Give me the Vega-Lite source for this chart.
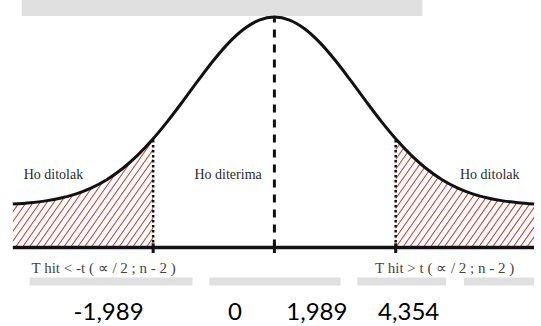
{
  "$schema": "https://vega.github.io/schema/vega-lite/v6.json",
  "width": 541,
  "height": 326,
  "autosize": {"type": "fit", "contains": "padding"},
  "padding": 0,
  "background": "white",
  "config": {"view": {"stroke": null}},
  "datasets": {
    "curve": [
      {"t": -4.29, "v": 0.1883, "side": "L", "cap": 0.6},
      {"t": -4.0, "v": 0.1941, "side": "L", "cap": 0.6},
      {"t": -3.75, "v": 0.2022, "side": "L", "cap": 0.6},
      {"t": -3.5, "v": 0.2146, "side": "L", "cap": 0.6},
      {"t": -3.25, "v": 0.2329, "side": "L", "cap": 0.6},
      {"t": -3.0, "v": 0.2589, "side": "L", "cap": 0.6},
      {"t": -2.75, "v": 0.2942, "side": "L", "cap": 0.6},
      {"t": -2.5, "v": 0.3405, "side": "L", "cap": 0.6},
      {"t": -2.25, "v": 0.3985, "side": "L", "cap": 0.6},
      {"t": -1.989, "v": 0.4714, "side": "L", "cap": 0.6},
      {"t": -1.989, "v": 0.4714, "side": "M", "cap": 0.6},
      {"t": -1.75, "v": 0.548, "side": "M", "cap": 0.6},
      {"t": -1.5, "v": 0.6351, "side": "M", "cap": 0.6},
      {"t": -1.25, "v": 0.7248, "side": "M", "cap": 0.6},
      {"t": -1.0, "v": 0.8111, "side": "M", "cap": 0.6},
      {"t": -0.75, "v": 0.8877, "side": "M", "cap": 0.6},
      {"t": -0.5, "v": 0.948, "side": "M", "cap": 0.6},
      {"t": -0.25, "v": 0.9867, "side": "M", "cap": 0.6},
      {"t": 0, "v": 1.0, "side": "M", "cap": 0.6},
      {"t": 0.25, "v": 0.9867, "side": "M", "cap": 0.6},
      {"t": 0.5, "v": 0.948, "side": "M", "cap": 0.6},
      {"t": 0.75, "v": 0.8877, "side": "M", "cap": 0.6},
      {"t": 1.0, "v": 0.8111, "side": "M", "cap": 0.6},
      {"t": 1.25, "v": 0.7248, "side": "M", "cap": 0.6},
      {"t": 1.5, "v": 0.6351, "side": "M", "cap": 0.6},
      {"t": 1.75, "v": 0.548, "side": "M", "cap": 0.6},
      {"t": 1.989, "v": 0.4714, "side": "M", "cap": 0.6},
      {"t": 1.989, "v": 0.4714, "side": "R", "cap": 0.6},
      {"t": 2.25, "v": 0.3985, "side": "R", "cap": 0.6},
      {"t": 2.5, "v": 0.3405, "side": "R", "cap": 0.6},
      {"t": 2.75, "v": 0.2942, "side": "R", "cap": 0.6},
      {"t": 3.0, "v": 0.2589, "side": "R", "cap": 0.6},
      {"t": 3.25, "v": 0.2329, "side": "R", "cap": 0.6},
      {"t": 3.5, "v": 0.2146, "side": "R", "cap": 0.6},
      {"t": 3.75, "v": 0.2022, "side": "R", "cap": 0.6},
      {"t": 4.0, "v": 0.1941, "side": "R", "cap": 0.6},
      {"t": 4.26, "v": 0.1886, "side": "R", "cap": 0.6}
    ],
    "hatch": [
      {"x0": -1.990, "x1": -0.660, "y0": 0, "y1": 0.5}, {"x0": -2.103, "x1": -0.773, "y0": 0, "y1": 0.5},
      {"x0": -2.216, "x1": -0.886, "y0": 0, "y1": 0.5}, {"x0": -2.329, "x1": -0.999, "y0": 0, "y1": 0.5},
      {"x0": -2.442, "x1": -1.112, "y0": 0, "y1": 0.5}, {"x0": -2.555, "x1": -1.225, "y0": 0, "y1": 0.5},
      {"x0": -2.668, "x1": -1.338, "y0": 0, "y1": 0.5}, {"x0": -2.781, "x1": -1.451, "y0": 0, "y1": 0.5},
      {"x0": -2.894, "x1": -1.564, "y0": 0, "y1": 0.5}, {"x0": -3.007, "x1": -1.677, "y0": 0, "y1": 0.5},
      {"x0": -3.120, "x1": -1.790, "y0": 0, "y1": 0.5}, {"x0": -3.233, "x1": -1.903, "y0": 0, "y1": 0.5},
      {"x0": -3.346, "x1": -2.016, "y0": 0, "y1": 0.5}, {"x0": -3.459, "x1": -2.129, "y0": 0, "y1": 0.5},
      {"x0": -3.572, "x1": -2.242, "y0": 0, "y1": 0.5}, {"x0": -3.685, "x1": -2.355, "y0": 0, "y1": 0.5},
      {"x0": -3.798, "x1": -2.468, "y0": 0, "y1": 0.5}, {"x0": -3.911, "x1": -2.581, "y0": 0, "y1": 0.5},
      {"x0": -4.024, "x1": -2.694, "y0": 0, "y1": 0.5}, {"x0": -4.137, "x1": -2.807, "y0": 0, "y1": 0.5},
      {"x0": -4.250, "x1": -2.920, "y0": 0, "y1": 0.5}, {"x0": -4.363, "x1": -3.033, "y0": 0, "y1": 0.5},
      {"x0": -4.476, "x1": -3.146, "y0": 0, "y1": 0.5}, {"x0": -4.589, "x1": -3.259, "y0": 0, "y1": 0.5},
      {"x0": -4.702, "x1": -3.372, "y0": 0, "y1": 0.5}, {"x0": -4.815, "x1": -3.485, "y0": 0, "y1": 0.5},
      {"x0": 0.747, "x1": 2.077, "y0": 0, "y1": 0.5}, {"x0": 0.860, "x1": 2.190, "y0": 0, "y1": 0.5},
      {"x0": 0.973, "x1": 2.303, "y0": 0, "y1": 0.5}, {"x0": 1.086, "x1": 2.416, "y0": 0, "y1": 0.5},
      {"x0": 1.199, "x1": 2.529, "y0": 0, "y1": 0.5}, {"x0": 1.312, "x1": 2.642, "y0": 0, "y1": 0.5},
      {"x0": 1.425, "x1": 2.755, "y0": 0, "y1": 0.5}, {"x0": 1.538, "x1": 2.868, "y0": 0, "y1": 0.5},
      {"x0": 1.651, "x1": 2.981, "y0": 0, "y1": 0.5}, {"x0": 1.764, "x1": 3.094, "y0": 0, "y1": 0.5},
      {"x0": 1.877, "x1": 3.207, "y0": 0, "y1": 0.5}, {"x0": 1.990, "x1": 3.320, "y0": 0, "y1": 0.5},
      {"x0": 2.103, "x1": 3.433, "y0": 0, "y1": 0.5}, {"x0": 2.216, "x1": 3.546, "y0": 0, "y1": 0.5},
      {"x0": 2.329, "x1": 3.659, "y0": 0, "y1": 0.5}, {"x0": 2.442, "x1": 3.772, "y0": 0, "y1": 0.5},
      {"x0": 2.555, "x1": 3.885, "y0": 0, "y1": 0.5}, {"x0": 2.668, "x1": 3.998, "y0": 0, "y1": 0.5},
      {"x0": 2.781, "x1": 4.111, "y0": 0, "y1": 0.5}, {"x0": 2.894, "x1": 4.224, "y0": 0, "y1": 0.5},
      {"x0": 3.007, "x1": 4.337, "y0": 0, "y1": 0.5}, {"x0": 3.120, "x1": 4.450, "y0": 0, "y1": 0.5},
      {"x0": 3.233, "x1": 4.563, "y0": 0, "y1": 0.5}, {"x0": 3.346, "x1": 4.676, "y0": 0, "y1": 0.5},
      {"x0": 3.459, "x1": 4.789, "y0": 0, "y1": 0.5}, {"x0": 3.572, "x1": 4.902, "y0": 0, "y1": 0.5},
      {"x0": 3.685, "x1": 5.015, "y0": 0, "y1": 0.5}, {"x0": 3.798, "x1": 5.128, "y0": 0, "y1": 0.5},
      {"x0": 3.911, "x1": 5.241, "y0": 0, "y1": 0.5}, {"x0": 4.024, "x1": 5.354, "y0": 0, "y1": 0.5},
      {"x0": 4.137, "x1": 5.467, "y0": 0, "y1": 0.5}, {"x0": 4.250, "x1": 5.580, "y0": 0, "y1": 0.5}
    ],
    "shade": [
      {"x0": -4.144, "x1": 2.428, "y0": 1.0043, "y1": 1.09},
      {"x0": -4.015, "x1": -1.344, "y0": -0.165, "y1": -0.13},
      {"x0": -1.068, "x1": 1.085, "y0": -0.165, "y1": -0.13},
      {"x0": 1.360, "x1": 2.817, "y0": -0.165, "y1": -0.13},
      {"x0": 3.108, "x1": 4.3, "y0": -0.165, "y1": -0.13}
    ],
    "cover": [
      {"x0": -1.989, "x1": 1.989, "y0": 0, "y1": 0.6},
      {"x0": -4.6, "x1": -4.29, "y0": -0.05, "y1": 0.6}
    ],
    "guides": [
      {"x0": -1.989, "x1": -1.989, "y0": 0, "y1": 0.4714, "kind": "cut"},
      {"x0": 1.989, "x1": 1.989, "y0": 0, "y1": 0.4714, "kind": "cut"},
      {"x0": 0, "x1": 0, "y0": 0, "y1": 1.0, "kind": "mean"},
      {"x0": -4.29, "x1": 4.2577, "y0": 0, "y1": 0, "kind": "axis"},
      {"x0": -1.989, "x1": -1.989, "y0": -0.024, "y1": 0.018, "kind": "tick"},
      {"x0": 0, "x1": 0, "y0": -0.024, "y1": 0.018, "kind": "tick"},
      {"x0": 1.989, "x1": 1.989, "y0": -0.024, "y1": 0.018, "kind": "tick"}
    ],
    "regions": [
      {"t": -4.112, "v": 0.3145, "text": "Ho ditolak"},
      {"t": -1.311, "v": 0.3145, "text": "Ho diterima"},
      {"t": 3.044, "v": 0.3145, "text": "Ho ditolak"}
    ],
    "rules": [
      {"t": -3.983, "v": -0.0889, "text": "T hit < -t ( ∝ / 2 ; n - 2 )"},
      {"t": 1.651, "v": -0.0889, "text": "T hit > t ( ∝ / 2 ; n - 2 )"}
    ],
    "values": [
      {"t": -2.72, "v": -0.2842, "text": "-1,989"},
      {"t": -0.648, "v": -0.2842, "text": "0"},
      {"t": 0.696, "v": -0.2842, "text": "1,989"},
      {"t": 2.202, "v": -0.2842, "text": "4,354"}
    ]
  },
  "layer": [
    {
      "data": {"name": "shade"},
      "mark": {"type": "rect", "color": "#e0e0e0", "clip": true},
      "encoding": {
        "x": {"field": "x0", "type": "quantitative", "scale": {"domain": [-4.5006, 4.2577], "nice": false, "zero": false}, "axis": null},
        "x2": {"field": "x1"},
        "y": {"field": "y0", "type": "quantitative", "scale": {"domain": [-0.3406, 1.0738], "nice": false, "zero": false}, "axis": null},
        "y2": {"field": "y1"}
      }
    },
    {
      "data": {"name": "hatch"},
      "mark": {"type": "rule", "color": "#c63f36", "strokeWidth": 1.1, "clip": true},
      "encoding": {
        "x": {"field": "x0", "type": "quantitative", "scale": {"domain": [-4.5006, 4.2577], "nice": false, "zero": false}, "axis": null},
        "x2": {"field": "x1"},
        "y": {"field": "y0", "type": "quantitative", "scale": {"domain": [-0.3406, 1.0738], "nice": false, "zero": false}, "axis": null},
        "y2": {"field": "y1"}
      }
    },
    {
      "data": {"name": "curve"},
      "transform": [{"filter": "datum.side !== 'M'"}],
      "mark": {"type": "area", "color": "white", "interpolate": "monotone", "clip": true},
      "encoding": {
        "x": {"field": "t", "type": "quantitative", "scale": {"domain": [-4.5006, 4.2577], "nice": false, "zero": false}, "axis": null},
        "y": {"field": "v", "type": "quantitative", "scale": {"domain": [-0.3406, 1.0738], "nice": false, "zero": false}, "axis": null},
        "y2": {"field": "cap"},
        "detail": {"field": "side", "type": "nominal"}
      }
    },
    {
      "data": {"name": "cover"},
      "mark": {"type": "rect", "color": "white", "clip": true},
      "encoding": {
        "x": {"field": "x0", "type": "quantitative", "scale": {"domain": [-4.5006, 4.2577], "nice": false, "zero": false}, "axis": null},
        "x2": {"field": "x1"},
        "y": {"field": "y0", "type": "quantitative", "scale": {"domain": [-0.3406, 1.0738], "nice": false, "zero": false}, "axis": null},
        "y2": {"field": "y1"}
      }
    },
    {
      "data": {"name": "curve"},
      "mark": {"type": "line", "color": "#111", "strokeWidth": 3, "interpolate": "monotone"},
      "encoding": {
        "x": {"field": "t", "type": "quantitative", "scale": {"domain": [-4.5006, 4.2577], "nice": false, "zero": false}, "axis": null},
        "y": {"field": "v", "type": "quantitative", "scale": {"domain": [-0.3406, 1.0738], "nice": false, "zero": false}, "axis": null}
      }
    },
    {
      "data": {"name": "guides"},
      "transform": [{"filter": "datum.kind === 'cut'"}],
      "mark": {"type": "rule", "color": "#111", "strokeWidth": 2.5, "strokeDash": [2.5, 2.5]},
      "encoding": {
        "x": {"field": "x0", "type": "quantitative", "scale": {"domain": [-4.5006, 4.2577], "nice": false, "zero": false}, "axis": null},
        "x2": {"field": "x1"},
        "y": {"field": "y0", "type": "quantitative", "scale": {"domain": [-0.3406, 1.0738], "nice": false, "zero": false}, "axis": null},
        "y2": {"field": "y1"}
      }
    },
    {
      "data": {"name": "guides"},
      "transform": [{"filter": "datum.kind === 'mean'"}],
      "mark": {"type": "rule", "color": "#111", "strokeWidth": 3, "strokeDash": [8, 7]},
      "encoding": {
        "x": {"field": "x0", "type": "quantitative", "scale": {"domain": [-4.5006, 4.2577], "nice": false, "zero": false}, "axis": null},
        "x2": {"field": "x1"},
        "y": {"field": "y0", "type": "quantitative", "scale": {"domain": [-0.3406, 1.0738], "nice": false, "zero": false}, "axis": null},
        "y2": {"field": "y1"}
      }
    },
    {
      "data": {"name": "guides"},
      "transform": [{"filter": "datum.kind === 'axis'"}],
      "mark": {"type": "rule", "color": "#111", "strokeWidth": 3.5},
      "encoding": {
        "x": {"field": "x0", "type": "quantitative", "scale": {"domain": [-4.5006, 4.2577], "nice": false, "zero": false}, "axis": null},
        "x2": {"field": "x1"},
        "y": {"field": "y0", "type": "quantitative", "scale": {"domain": [-0.3406, 1.0738], "nice": false, "zero": false}, "axis": null},
        "y2": {"field": "y1"}
      }
    },
    {
      "data": {"name": "guides"},
      "transform": [{"filter": "datum.kind === 'tick'"}],
      "mark": {"type": "rule", "color": "#111", "strokeWidth": 3},
      "encoding": {
        "x": {"field": "x0", "type": "quantitative", "scale": {"domain": [-4.5006, 4.2577], "nice": false, "zero": false}, "axis": null},
        "x2": {"field": "x1"},
        "y": {"field": "y0", "type": "quantitative", "scale": {"domain": [-0.3406, 1.0738], "nice": false, "zero": false}, "axis": null},
        "y2": {"field": "y1"}
      }
    },
    {
      "data": {"name": "regions"},
      "mark": {"type": "text", "align": "left", "baseline": "middle", "font": "Liberation Serif", "fontSize": 14, "color": "#2a2a2a"},
      "encoding": {
        "x": {"field": "t", "type": "quantitative", "scale": {"domain": [-4.5006, 4.2577], "nice": false, "zero": false}, "axis": null},
        "y": {"field": "v", "type": "quantitative", "scale": {"domain": [-0.3406, 1.0738], "nice": false, "zero": false}, "axis": null},
        "text": {"field": "text", "type": "nominal"}
      }
    },
    {
      "data": {"name": "rules"},
      "mark": {"type": "text", "align": "left", "baseline": "middle", "font": "Liberation Serif", "fontSize": 15, "color": "#444"},
      "encoding": {
        "x": {"field": "t", "type": "quantitative", "scale": {"domain": [-4.5006, 4.2577], "nice": false, "zero": false}, "axis": null},
        "y": {"field": "v", "type": "quantitative", "scale": {"domain": [-0.3406, 1.0738], "nice": false, "zero": false}, "axis": null},
        "text": {"field": "text", "type": "nominal"}
      }
    },
    {
      "data": {"name": "values"},
      "mark": {"type": "text", "align": "center", "baseline": "middle", "font": "Lato", "fontSize": 24, "color": "#000"},
      "encoding": {
        "x": {"field": "t", "type": "quantitative", "scale": {"domain": [-4.5006, 4.2577], "nice": false, "zero": false}, "axis": null},
        "y": {"field": "v", "type": "quantitative", "scale": {"domain": [-0.3406, 1.0738], "nice": false, "zero": false}, "axis": null},
        "text": {"field": "text", "type": "nominal"}
      }
    }
  ]
}
